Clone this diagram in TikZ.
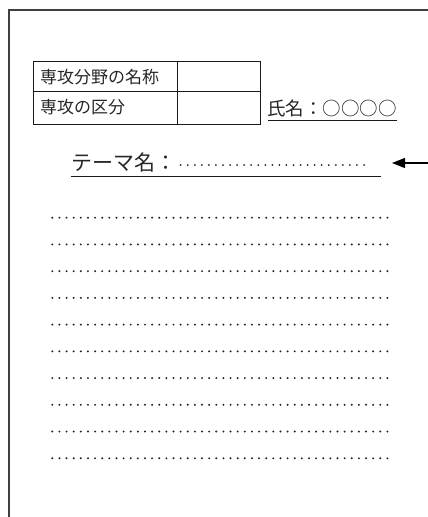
\documentclass[tikz,border=0pt]{standalone}
\usepackage{fontspec}
\newfontfamily\jp{Noto Sans CJK JP}
\usetikzlibrary{arrows.meta}
\begin{document}
\begin{tikzpicture}[x=1pt,y=-1pt,
  frame/.style={draw=black!75,line width=1.5pt},
  cell/.style={draw=black!90,line width=1.3pt,inner sep=0pt,anchor=north west},
  tbltext/.style={font=\jp\fontsize{17}{17}\selectfont,text=black!85,inner sep=0pt,anchor=west},
  nametext/.style={font=\jp\fontsize{18.5}{19}\selectfont,text=black!85,inner sep=0pt,anchor=west},
  themetext/.style={font=\jp\fontsize{21}{21}\selectfont,text=black!85,inner sep=0pt,anchor=west},
  uline/.style={draw=black!90,line width=0.9pt},
  dotmark/.style={fill=black!85,draw=none},
  arrowline/.style={draw=black,line width=1.4pt,-{Triangle[length=13pt,width=10pt]}}]
\useasboundingbox (0,0) rectangle (428,517);
% page frame
\coordinate (fb) at (9,517);
\coordinate (ftl) at (9,10);
\coordinate (fr) at (428,10);
\draw[frame] (fb) -- (ftl) -- (fr);
% table
\node[cell,minimum width=144pt,minimum height=30pt] (c11) at (33,61) {};
\node[cell,minimum width=83pt,minimum height=30pt] (c12) at (177,61) {};
\node[cell,minimum width=144pt,minimum height=33pt] (c21) at (33,91) {};
\node[cell,minimum width=83pt,minimum height=33pt] (c22) at (177,91) {};
\node[tbltext] (t1) at (40,77) {専攻分野の名称};
\node[tbltext] (t2) at (40,107) {専攻の区分};
% name
\node[nametext] (name) at (267,108) {氏名：○○○○};
\coordinate (nl) at (268,120.5);
\coordinate (nr) at (397,120.5);
\draw[uline] (nl) -- (nr);
% theme
\node[themetext] (theme) at (71,163) {テーマ名：};
\foreach \i in {0,...,26} {
  \fill[dotmark] (180.7+7.05*\i,165) circle (1pt);
}
\coordinate (tl) at (71,176);
\coordinate (tr) at (381,176);
\draw[uline] (tl) -- (tr);
% arrow
\coordinate (as) at (428,163);
\coordinate (at) at (392,163);
\draw[arrowline] (as) -- (at);
% dotted writing lines
\foreach \k in {0,...,9} {
  \foreach \i in {0,...,47} {
    \fill[dotmark] (52.3+7.13*\i,217.7+26.73*\k) circle (1.1pt);
  }
}
\end{tikzpicture}
\end{document}
